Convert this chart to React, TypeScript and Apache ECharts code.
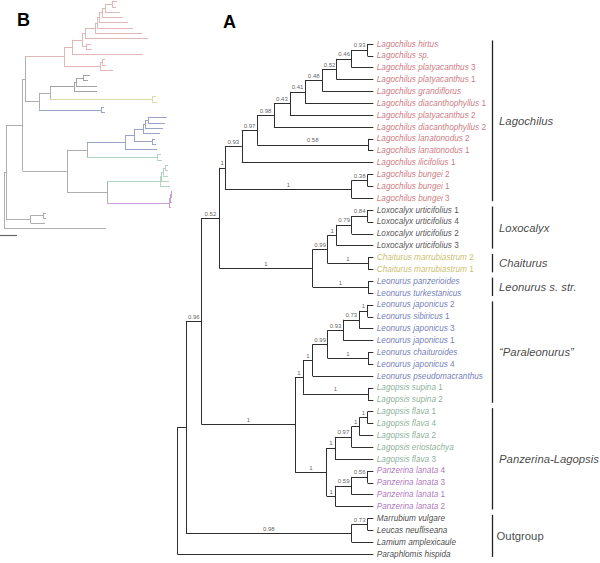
import React, { useEffect, useRef } from 'react';
import * as echarts from 'echarts';

const FONT = "'Liberation Sans', Arial, Helvetica, sans-serif";

// Clade groups (index used by leaves)
const groupTextColors = ['#c2545c', '#1e1e1e', '#bcac45', '#4a58a8', '#6b9a7c', '#9a4fae', '#111111'];
const groupBranchColorsB = ['#dcb0b0', '#999999', '#d6d6a0', '#8f98c4', '#acd0b6', '#c394d2', '#a6a6a6'];
const BACKBONE_B = '#a6a6a6';

// Internal nodes: [id, parent, depth in cladogram A, depth in phylogram B, posterior support]
const internalNodes: [string, string | null, number, number, string][] = [
  ['root', null, 0, 0, ''],
  ['R1', 'root', 4.4, 2, ''],
  ['n096', 'R1', 12.4, 18.7, '0.96'],
  ['n052b', 'n096', 21.4, 21, '0.52'],
  ['nLag', 'n052b', 24.3, 60, '1'],
  ['n093', 'nLag', 32.9, 68, '0.93'],
  ['n097', 'n093', 40.8, 78, '0.97'],
  ['n098', 'n097', 49.3, 81, '0.98'],
  ['n043', 'n098', 57.5, 91, '0.43'],
  ['n041', 'n043', 65.2, 93, '0.41'],
  ['n048', 'n041', 74.0, 95, '0.48'],
  ['n052', 'n048', 81.3, 98, '0.52'],
  ['n046', 'n052', 89.0, 101, '0.46'],
  ['nHS', 'n046', 97.1, 108, '0.93'],
  ['nLan', 'n097', 97.3, 82, '0.58'],
  ['nBg', 'nLag', 89.0, 96, '1'],
  ['nBg2', 'nBg', 97.1, 98, '0.38'],
  ['nLCL', 'n052b', 69.1, 35, '1'],
  ['n099a', 'nLCL', 76.7, 46, '0.99'],
  ['nLx1', 'n099a', 81.3, 70, '1'],
  ['nLx079', 'nLx1', 89.0, 72, '0.79'],
  ['nLx084', 'nLx079', 97.1, 79, '0.84'],
  ['nCh', 'n099a', 97.3, 148, '1'],
  ['nLe', 'nLCL', 97.3, 97, '1'],
  ['nPP', 'n096', 60.1, 63, '1'],
  ['nB', 'nPP', 64.1, 83, '1'],
  ['nPa1b', 'nB', 69.1, 121, '1'],
  ['nPa099', 'nPa1b', 76.7, 130, '0.99'],
  ['nPa093', 'nPa099', 84.7, 139, '0.93'],
  ['nPa073', 'nPa093', 92.9, 141, '0.73'],
  ['nPa1', 'nPa073', 97.1, 144, '1'],
  ['nPaCJ', 'nPa099', 97.3, 148, '1'],
  ['nSu', 'nB', 97.3, 153, '1'],
  ['nPL', 'nPP', 76.2, 103, '1'],
  ['nL1', 'nPL', 80.5, 156, '1'],
  ['nLf097', 'nL1', 89.0, 157, '0.97'],
  ['nLf1b', 'nLf097', 92.9, 159, '1'],
  ['nLf1', 'nLf1b', 97.1, 161, '1'],
  ['nPz1', 'nPL', 80.8, 165, '1'],
  ['nPz059', 'nPz1', 89.0, 166, '0.59'],
  ['nPz056', 'nPz059', 97.1, 167, '0.56'],
  ['nOg098', 'R1', 89.0, 26.7, '0.98'],
  ['nOg073', 'nOg098', 97.1, 39, '0.73'],
];

// Leaves in display order: [name, parent node, group, tip depth in phylogram B]
const leaves: [string, string, number, number][] = [
  ['Lagochilus hirtus', 'nHS', 0, 113],
  ['Lagochilus sp.', 'nHS', 0, 112],
  ['Lagochilus platyacanthus 3', 'n046', 0, 116],
  ['Lagochilus platyacanthus 1', 'n052', 0, 119],
  ['Lagochilus grandiflorus', 'n048', 0, 124],
  ['Lagochilus diacanthophyllus 1', 'n041', 0, 129],
  ['Lagochilus platyacanthus 2', 'n043', 0, 138],
  ['Lagochilus diacanthophyllus 2', 'n098', 0, 144],
  ['Lagochilus lanatonodus 2', 'nLan', 0, 87],
  ['Lagochilus lanatonodus 1', 'nLan', 0, 88],
  ['Lagochilus ilicifolius 1', 'n093', 0, 139],
  ['Lagochilus bungei 2', 'nBg2', 0, 101],
  ['Lagochilus bungei 1', 'nBg2', 0, 102],
  ['Lagochilus bungei 3', 'nBg', 0, 109],
  ['Loxocalyx urticifolius 1', 'nLx084', 1, 86],
  ['Loxocalyx urticifolius 4', 'nLx084', 1, 84],
  ['Loxocalyx urticifolius 2', 'nLx079', 1, 93],
  ['Loxocalyx urticifolius 3', 'nLx1', 1, 93],
  ['Chaiturus marrubiastrum 2', 'nCh', 2, 152],
  ['Chaiturus marrubiastrum 1', 'nCh', 2, 153],
  ['Leonurus panzerioides', 'nLe', 3, 100],
  ['Leonurus turkestanicus', 'nLe', 3, 101],
  ['Leonurus japonicus 2', 'nPa1', 3, 163],
  ['Leonurus sibiricus 1', 'nPa1', 3, 161],
  ['Leonurus japonicus 3', 'nPa073', 3, 159],
  ['Leonurus japonicus 1', 'nPa093', 3, 156],
  ['Leonurus chaituroides', 'nPaCJ', 3, 151],
  ['Leonurus japonicus 4', 'nPaCJ', 3, 152],
  ['Leonurus pseudomacranthus', 'nPa1b', 3, 153],
  ['Lagopsis supina 1', 'nSu', 4, 157],
  ['Lagopsis supina 2', 'nSu', 4, 158],
  ['Lagopsis flava 1', 'nLf1', 4, 164],
  ['Lagopsis flava 4', 'nLf1', 4, 164],
  ['Lagopsis flava 2', 'nLf1b', 4, 164],
  ['Lagopsis eriostachya', 'nLf097', 4, 165],
  ['Lagopsis flava 3', 'nL1', 4, 166],
  ['Panzerina lanata 4', 'nPz056', 5, 168],
  ['Panzerina lanata 3', 'nPz056', 5, 168],
  ['Panzerina lanata 1', 'nPz059', 5, 168],
  ['Panzerina lanata 2', 'nPz1', 5, 167],
  ['Marrubium vulgare', 'nOg073', 6, 42],
  ['Leucas neufliseana', 'nOg073', 6, 42],
  ['Lamium amplexicaule', 'nOg098', 6, 41],
  ['Paraphlomis hispida', 'root', 6, 102],
];

// Clade bars: [label, first leaf, last leaf, italic]
const clades: [string, number, number, boolean][] = [
  ['Lagochilus', 0, 13, true],
  ['Loxocalyx', 14, 17, true],
  ['Chaiturus', 18, 19, true],
  ['Leonurus s. str.', 20, 21, true],
  ['\u201CParaleonurus\u201D', 22, 30, true],
  ['Panzerina-Lagopsis', 31, 39, true],
  ['Outgroup', 40, 43, false],
];

const TIP_DEPTH_A = 100;
const CLADE_BAR_DEPTH = 160.6;
const SCALE_BAR = { start: -4, length: 17, row: 44.2 };

function buildTree() {
  const kids: Record<string, { leaf: boolean; key: string | number }[]> = {};
  internalNodes.forEach(([id, parent]) => {
    if (parent) (kids[parent] = kids[parent] || []).push({ leaf: false, key: id });
  });
  leaves.forEach(([, parent], i) => {
    (kids[parent] = kids[parent] || []).push({ leaf: true, key: i });
  });
  const nodeById: Record<string, [string, string | null, number, number, string]> = {};
  internalNodes.forEach((n) => (nodeById[n[0]] = n));
  const yMemo: Record<string, number> = {};
  const nodeY = (id: string): number => {
    if (yMemo[id] !== undefined) return yMemo[id];
    const ys = kids[id].map((c) => (c.leaf ? (c.key as number) : nodeY(c.key as string)));
    yMemo[id] = ys.reduce((a, b) => a + b, 0) / ys.length;
    return yMemo[id];
  };
  const gMemo: Record<string, number> = {};
  const nodeGroup = (id: string): number => {
    if (gMemo[id] !== undefined) return gMemo[id];
    const gs = kids[id].map((c) => (c.leaf ? leaves[c.key as number][2] : nodeGroup(c.key as string)));
    gMemo[id] = gs.every((g) => g === gs[0]) ? gs[0] : -1;
    return gMemo[id];
  };
  const childY = (c: { leaf: boolean; key: string | number }) =>
    c.leaf ? (c.key as number) : nodeY(c.key as string);

  const segments = (panel: 'A' | 'B') => {
    const segs: { coords: number[][]; lineStyle: any }[] = [];
    const dN = (id: string) => (panel === 'A' ? nodeById[id][2] : nodeById[id][3]);
    const colorOf = (g: number) =>
      panel === 'A' ? '#2e2e2e' : g < 0 ? BACKBONE_B : groupBranchColorsB[g];
    internalNodes.forEach(([id, parent]) => {
      const y = nodeY(id);
      const col = colorOf(nodeGroup(id));
      if (parent) segs.push({ coords: [[dN(parent), y], [dN(id), y]], lineStyle: { color: col } });
      const cy = kids[id].map(childY);
      segs.push({ coords: [[dN(id), Math.min(...cy)], [dN(id), Math.max(...cy)]], lineStyle: { color: col } });
    });
    leaves.forEach(([, parent, g, dB], i) => {
      const tip = panel === 'A' ? TIP_DEPTH_A : dB;
      segs.push({ coords: [[dN(parent), i], [tip, i]], lineStyle: { color: colorOf(g) } });
    });
    return segs;
  };

  const supports = internalNodes
    .filter(([, parent, , , s]) => parent && s)
    .map(([id, parent, dA, , s]) => ({
      value: [(nodeById[parent as string][2] + dA) / 2, nodeY(id)],
      name: s,
      label: { color: '#333333' },
    }));

  return { segA: segments('A'), segB: segments('B'), supports };
}

function leafLabel(name: string, color: string) {
  const m = name.match(/^(.*?)( \d+)?$/);
  const ital = m ? m[1] : name;
  const num = m && m[2] ? m[2].trim() : '';
  const base = { fontSize: 8.2, fontFamily: FONT, color };
  return {
    formatter: num ? `{i|${ital} }{n|${num}}` : `{i|${ital}}`,
    rich: {
      i: { ...base, fontStyle: 'italic' },
      n: { ...base, fontStyle: 'normal' },
    },
  };
}

export default function App() {
  const ref = useRef<HTMLDivElement>(null);
  useEffect(() => {
    if (!ref.current) return;
    const chart = echarts.init(ref.current, undefined, { renderer: 'svg' });
    const { segA, segB, supports } = buildTree();

    const option: any = {
      animation: false,
      backgroundColor: '#ffffff',
      grid: [
        { left: 177.3, top: 44, width: 1.96 * 165, height: 510, outerBoundsMode: 'none' },
        { left: 4, top: 1.5, width: 166, height: 227.1, outerBoundsMode: 'none' },
      ],
      xAxis: [
        { gridIndex: 0, type: 'value', min: 0, max: 165, show: false },
        { gridIndex: 1, type: 'value', min: 0, max: 166, show: false },
      ],
      yAxis: [
        { gridIndex: 0, type: 'value', min: 0, max: 43, inverse: true, show: false },
        { gridIndex: 1, type: 'value', min: 0, max: 43, inverse: true, show: false },
      ],
      series: [
        {
          type: 'lines',
          coordinateSystem: 'cartesian2d',
          xAxisIndex: 0,
          yAxisIndex: 0,
          silent: true,
          clip: false,
          lineStyle: { width: 1, opacity: 1 },
          data: segA,
        },
        {
          type: 'lines',
          coordinateSystem: 'cartesian2d',
          xAxisIndex: 1,
          yAxisIndex: 1,
          silent: true,
          clip: false,
          lineStyle: { width: 0.9, opacity: 1 },
          data: [
            ...segB,
            {
              coords: [
                [SCALE_BAR.start, SCALE_BAR.row],
                [SCALE_BAR.start + SCALE_BAR.length, SCALE_BAR.row],
              ],
              lineStyle: { color: '#666', width: 1.2 },
            },
          ],
        },
        {
          type: 'lines',
          coordinateSystem: 'cartesian2d',
          xAxisIndex: 0,
          yAxisIndex: 0,
          silent: true,
          clip: false,
          lineStyle: { width: 1.3, color: '#222', opacity: 1 },
          data: clades.map(([, a, b]) => ({
            coords: [
              [CLADE_BAR_DEPTH, a - 0.3],
              [CLADE_BAR_DEPTH, b + 0.25],
            ],
          })),
        },
        {
          type: 'scatter',
          xAxisIndex: 0,
          yAxisIndex: 0,
          symbolSize: 0,
          silent: true,
          clip: false,
          data: leaves.map(([name, , g], i) => ({
            value: [TIP_DEPTH_A, i],
            label: { show: true, position: 'right', distance: 3.5, ...leafLabel(name, groupTextColors[g]) },
          })),
        },
        {
          type: 'scatter',
          xAxisIndex: 0,
          yAxisIndex: 0,
          symbolSize: 0,
          silent: true,
          clip: false,
          itemStyle: { color: '#333333' },
          label: {
            show: true,
            position: 'top',
            distance: 1.5,
            formatter: (p: any) => p.name,
            fontSize: 6,
            fontFamily: FONT,
            color: '#333333',
          },
          data: supports,
        },
        {
          type: 'scatter',
          xAxisIndex: 0,
          yAxisIndex: 0,
          symbolSize: 0,
          silent: true,
          clip: false,
          data: clades.map(([label, a, b, ital]) => ({
            value: [CLADE_BAR_DEPTH, (a - 0.3 + b + 0.25) / 2],
            label: {
              show: true,
              position: 'right',
              distance: ital ? 7 : 4.5,
              formatter: label,
              fontSize: 11.3,
              fontFamily: FONT,
              fontStyle: ital ? 'italic' : 'normal',
              color: '#111',
            },
          })),
        },
      ],
      graphic: [
        {
          type: 'text',
          x: 223,
          y: 13,
          style: { text: 'A', font: `bold 18px ${FONT}`, fill: '#000' },
        },
        {
          type: 'text',
          x: 17,
          y: 11,
          style: { text: 'B', font: `bold 18px ${FONT}`, fill: '#000' },
        },
      ],
    };
    chart.setOption(option);
    return () => chart.dispose();
  }, []);

  return (
    <div
      ref={ref}
      style={{ position: 'fixed', left: 0, top: 0, width: 600, height: 563, background: '#fff' }}
    />
  );
}
